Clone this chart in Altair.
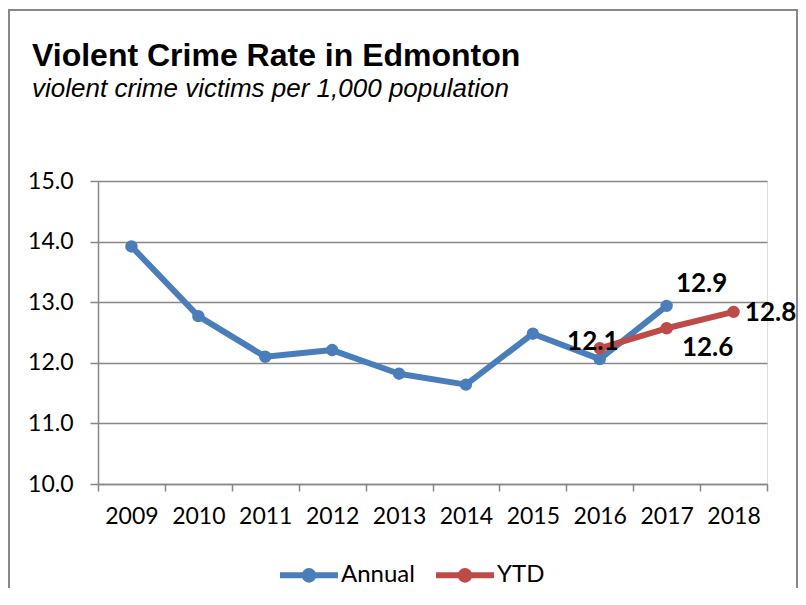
import altair as alt
import pandas as pd

years = [str(y) for y in range(2009, 2019)]
annual_years = years[:9]
annual_values = [13.92, 12.77, 12.10, 12.21, 11.82, 11.64, 12.48, 12.06, 12.94]
ytd_years = ["2016", "2017", "2018"]
ytd_values = [12.24, 12.57, 12.84]
series_names = ["Annual", "YTD"]
series_colors = ["#4A7EBB", "#BE4B48"]
y_ticks = [10, 11, 12, 13, 14, 15]
title_text = "Violent Crime Rate in Edmonton"
subtitle_text = "violent crime victims per 1,000 population"

FONT = "Lato"
TFONT = "Liberation Sans"
GRAY = "#878787"

df = pd.DataFrame({
    "year": annual_years + ytd_years,
    "value": annual_values + ytd_values,
    "series": [series_names[0]] * len(annual_years) + [series_names[1]] * len(ytd_years),
})

x_enc = alt.X(
    "year:O",
    scale=alt.Scale(type="band", domain=years, paddingInner=0, paddingOuter=0),
    bandPosition=0.5,
    axis=alt.Axis(title=None, tickBand="extent", labelAngle=0, labelFont=FONT,
                  labelFontSize=23, labelColor="black", labelPadding=14,
                  tickSize=7, tickColor=GRAY, domainColor=GRAY, tickWidth=1.5,
                  domainWidth=1.5, grid=False),
)
y_enc = alt.Y(
    "value:Q",
    scale=alt.Scale(domain=[10, 15], nice=False, zero=False),
    axis=alt.Axis(title=None, values=y_ticks, format=".1f", labelFont=FONT,
                  labelFontSize=23, labelColor="black", labelPadding=17,
                  tickSize=8, tickColor=GRAY, domainColor=GRAY, gridColor=GRAY,
                  gridWidth=1.5, tickWidth=1.5, domainWidth=1.5, grid=True),
)

legend_path = ("M-1,0H1M-0.15,0A0.15,0.15,0,1,0,0.15,0"
               "A0.15,0.15,0,1,0,-0.15,0Z")
color_enc = alt.Color(
    "series:N",
    scale=alt.Scale(domain=series_names, range=series_colors),
    legend=alt.Legend(title=None, orient="none", legendX=179, legendY=362,
                      direction="horizontal", symbolType=legend_path,
                      symbolSize=3364, symbolStrokeWidth=6,
                      labelFont=FONT, labelFontSize=24, labelColor="black",
                      labelOffset=0, columnPadding=9),
)

base = alt.Chart(df).encode(x=x_enc, y=y_enc, color=color_enc)

layers = []
for s in series_names:
    sub = base.transform_filter(alt.datum.series == s)
    layers.append(sub.mark_line(strokeWidth=6, strokeCap="round", strokeJoin="round"))
    layers.append(sub.mark_point(filled=True, size=154, opacity=1))


def label(series, year, dx, dy):
    return alt.Chart(df).transform_filter(
        (alt.datum.series == series) & (alt.datum.year == year)
    ).mark_text(font=FONT, fontSize=26, fontWeight="bold", color="black",
                align="center", baseline="middle", dx=dx, dy=dy).encode(
        x=x_enc, y=y_enc, text=alt.Text("value:Q", format=".1f"))


labels = [
    label("Annual", "2016", -7, -17),
    label("Annual", "2017", 35, -22),
    label("YTD", "2017", 41, 20),
    label("YTD", "2018", 37, 1),
]

title_layer = alt.Chart(pd.DataFrame({"t": [title_text]})).mark_text(
    font=TFONT, fontSize=32, fontWeight="bold", color="black", align="left",
    baseline="alphabetic").encode(text="t:N", x=alt.value(-66), y=alt.value(-115))
subtitle_layer = alt.Chart(pd.DataFrame({"t": [subtitle_text]})).mark_text(
    font=TFONT, fontSize=26, fontStyle="italic", color="black", align="left",
    baseline="alphabetic").encode(text="t:N", x=alt.value(-66), y=alt.value(-84))

border = alt.Chart(pd.DataFrame({"a": [0]})).mark_rect(
    fillOpacity=0, stroke=GRAY, strokeWidth=2).encode(
    x=alt.value(-89), x2=alt.value(699), y=alt.value(-171), y2=alt.value(520))

chart = alt.layer(border, title_layer, subtitle_layer, *layers, *labels).properties(
    width=669, height=303,
    autosize=alt.AutoSizeParams(type="none"),
    padding={"left": 90, "top": 173, "right": 31, "bottom": 104},
).configure_view(stroke=None).configure(background="white")

chart.save("out.html", embed_options={"renderer": "svg", "actions": False})
